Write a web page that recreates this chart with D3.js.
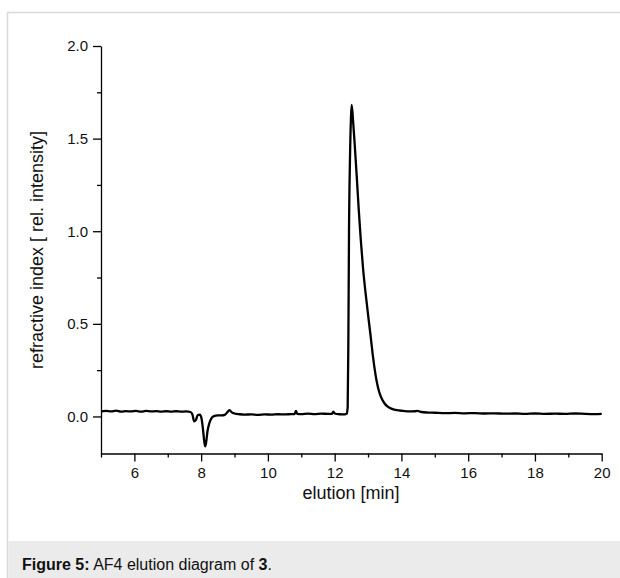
<!DOCTYPE html>
<html>
<head>
<meta charset="utf-8">
<script src="https://cdn.jsdelivr.net/npm/d3@7"></script>
<style>
  html, body { margin: 0; padding: 0; background: #fff; }
  svg { display: block; font-family: "Liberation Sans", Arial, sans-serif; }
</style>
</head>
<body>
<svg id="chart" width="620" height="578"></svg>
<script>
// AF4 elution trace: refractive index signal vs. elution time
const elution = [
  5.00, 5.15, 5.30, 5.45, 5.60, 5.75, 5.90, 6.05, 6.20, 6.35, 6.50, 6.65, 6.80, 6.95,
  7.10, 7.25, 7.40, 7.55, 7.68, 7.74, 7.79, 7.84, 7.90, 7.96, 8.01, 8.05, 8.09, 8.12,
  8.15, 8.19, 8.24, 8.30, 8.38, 8.50, 8.62, 8.72, 8.80, 8.85, 8.92, 9.00, 9.15, 9.30,
  9.50, 9.70, 9.90, 10.10, 10.30, 10.50, 10.70, 10.80, 10.84, 10.88, 11.00, 11.20,
  11.40, 11.60, 11.80, 11.92, 11.96, 12.00, 12.15, 12.30, 12.36, 12.39, 12.41, 12.43,
  12.46, 12.49, 12.51, 12.55, 12.60, 12.66, 12.72, 12.78, 12.85, 12.93, 13.01, 13.08,
  13.15, 13.22, 13.30, 13.38, 13.48, 13.58, 13.72, 13.86, 14.05, 14.25, 14.40, 14.48,
  14.60, 14.80, 15.00, 15.30, 15.60, 15.90, 16.20, 16.50, 16.80, 17.10, 17.40, 17.70,
  18.00, 18.30, 18.60, 18.90, 19.20, 19.50, 19.80, 20.00
];
const riSignal = [
  0.028, 0.030, 0.027, 0.031, 0.026, 0.029, 0.027, 0.030, 0.026, 0.030, 0.027, 0.029, 0.026, 0.028,
  0.026, 0.028, 0.026, 0.027, 0.024, 0.010, -0.026, -0.020, 0.008, 0.010, -0.010, -0.060, -0.130, -0.162,
  -0.140, -0.080, -0.040, -0.012, 0.002, 0.006, 0.006, 0.010, 0.026, 0.034, 0.022, 0.016, 0.012, 0.010,
  0.011, 0.009, 0.011, 0.010, 0.012, 0.011, 0.013, 0.013, 0.030, 0.014, 0.013, 0.015,
  0.013, 0.015, 0.014, 0.014, 0.026, 0.016, 0.012, 0.011, 0.014, 0.050, 0.400, 1.000,
  1.400, 1.620, 1.682, 1.600, 1.470, 1.300, 1.120, 0.960, 0.800, 0.660, 0.535, 0.430,
  0.320, 0.230, 0.155, 0.108, 0.074, 0.054, 0.041, 0.034, 0.030, 0.027, 0.028, 0.030,
  0.024, 0.021, 0.020, 0.018, 0.019, 0.017, 0.018, 0.016, 0.017, 0.015, 0.016, 0.014,
  0.016, 0.014, 0.015, 0.014, 0.016, 0.014, 0.013, 0.014
];

// axis ticks
const xMajorTicks = [6, 8, 10, 12, 14, 16, 18, 20];
const xMinorTicks = [5, 7, 9, 11, 13, 15, 17, 19];
const yMajorTicks = [0.0, 0.5, 1.0, 1.5, 2.0];
const yMinorTicks = [0.25, 0.75, 1.25, 1.75];

const xTitle = "elution [min]";
const yTitle = "refractive index [ rel. intensity]";

const svg = d3.select("#chart");
const W = 620, H = 578;

// figure frame and caption strip
svg.append("rect").attr("x", 0).attr("y", 0).attr("width", W).attr("height", H).attr("fill", "#fff");
svg.append("rect")
  .attr("x", 7.5).attr("y", 12.5).attr("width", W).attr("height", H)
  .attr("fill", "none").attr("stroke", "#d9d9d9").attr("stroke-width", 1.5);
svg.append("rect")
  .attr("x", 8.25).attr("y", 541).attr("width", W).attr("height", H - 541)
  .attr("fill", "#ebebeb");

const caption = svg.append("text")
  .attr("x", 22).attr("y", 570)
  .attr("font-size", 16).attr("fill", "#111");
caption.append("tspan").attr("font-weight", "bold").text("Figure 5:");
caption.append("tspan").text(" AF4 elution diagram of ");
caption.append("tspan").attr("font-weight", "bold").text("3");
caption.append("tspan").text(".");

// plot area
const x = d3.scaleLinear().domain([5, 20]).range([101, 601.7]);
const y = d3.scaleLinear().domain([-0.2, 2.0]).range([453.5, 46]);

const fmt = d3.format(".1f");

const gx = svg.append("g").attr("transform", `translate(0,${y(-0.2)})`);
gx.call(d3.axisBottom(x).tickValues(xMajorTicks).tickSize(8).tickSizeOuter(0).tickPadding(6).tickFormat(d3.format("d")));
const gxm = svg.append("g").attr("transform", `translate(0,${y(-0.2)})`);
gxm.call(d3.axisBottom(x).tickValues(xMinorTicks).tickSize(4).tickSizeOuter(0).tickFormat(""));
gxm.select(".domain").remove();

const gy = svg.append("g").attr("transform", `translate(${x(5)},0)`);
gy.call(d3.axisLeft(y).tickValues(yMajorTicks).tickSize(8).tickSizeOuter(0).tickPadding(5).tickFormat(fmt));
const gym = svg.append("g").attr("transform", `translate(${x(5)},0)`);
gym.call(d3.axisLeft(y).tickValues(yMinorTicks).tickSize(4).tickSizeOuter(0).tickFormat(""));
gym.select(".domain").remove();

svg.selectAll(".domain, .tick line").attr("stroke", "#000").attr("stroke-width", 1.3);
svg.selectAll(".tick text").attr("font-size", 15).attr("fill", "#111")
  .attr("font-family", "Liberation Sans, Arial, sans-serif");

// axis titles
svg.append("text")
  .attr("x", 351).attr("y", 499)
  .attr("text-anchor", "middle").attr("font-size", 18).attr("fill", "#111")
  .text(xTitle);
svg.append("text")
  .attr("transform", `translate(43,250) rotate(-90)`)
  .attr("text-anchor", "middle").attr("font-size", 18).attr("fill", "#111")
  .text(yTitle);

// trace
const points = elution.map((t, i) => [t, riSignal[i]]);
const line = d3.line()
  .x(d => x(d[0]))
  .y(d => y(d[1]))
  .curve(d3.curveMonotoneX);
svg.append("path")
  .datum(points)
  .attr("d", line)
  .attr("fill", "none")
  .attr("stroke", "#000")
  .attr("stroke-width", 2.3)
  .attr("stroke-linejoin", "round");
</script>
</body>
</html>
